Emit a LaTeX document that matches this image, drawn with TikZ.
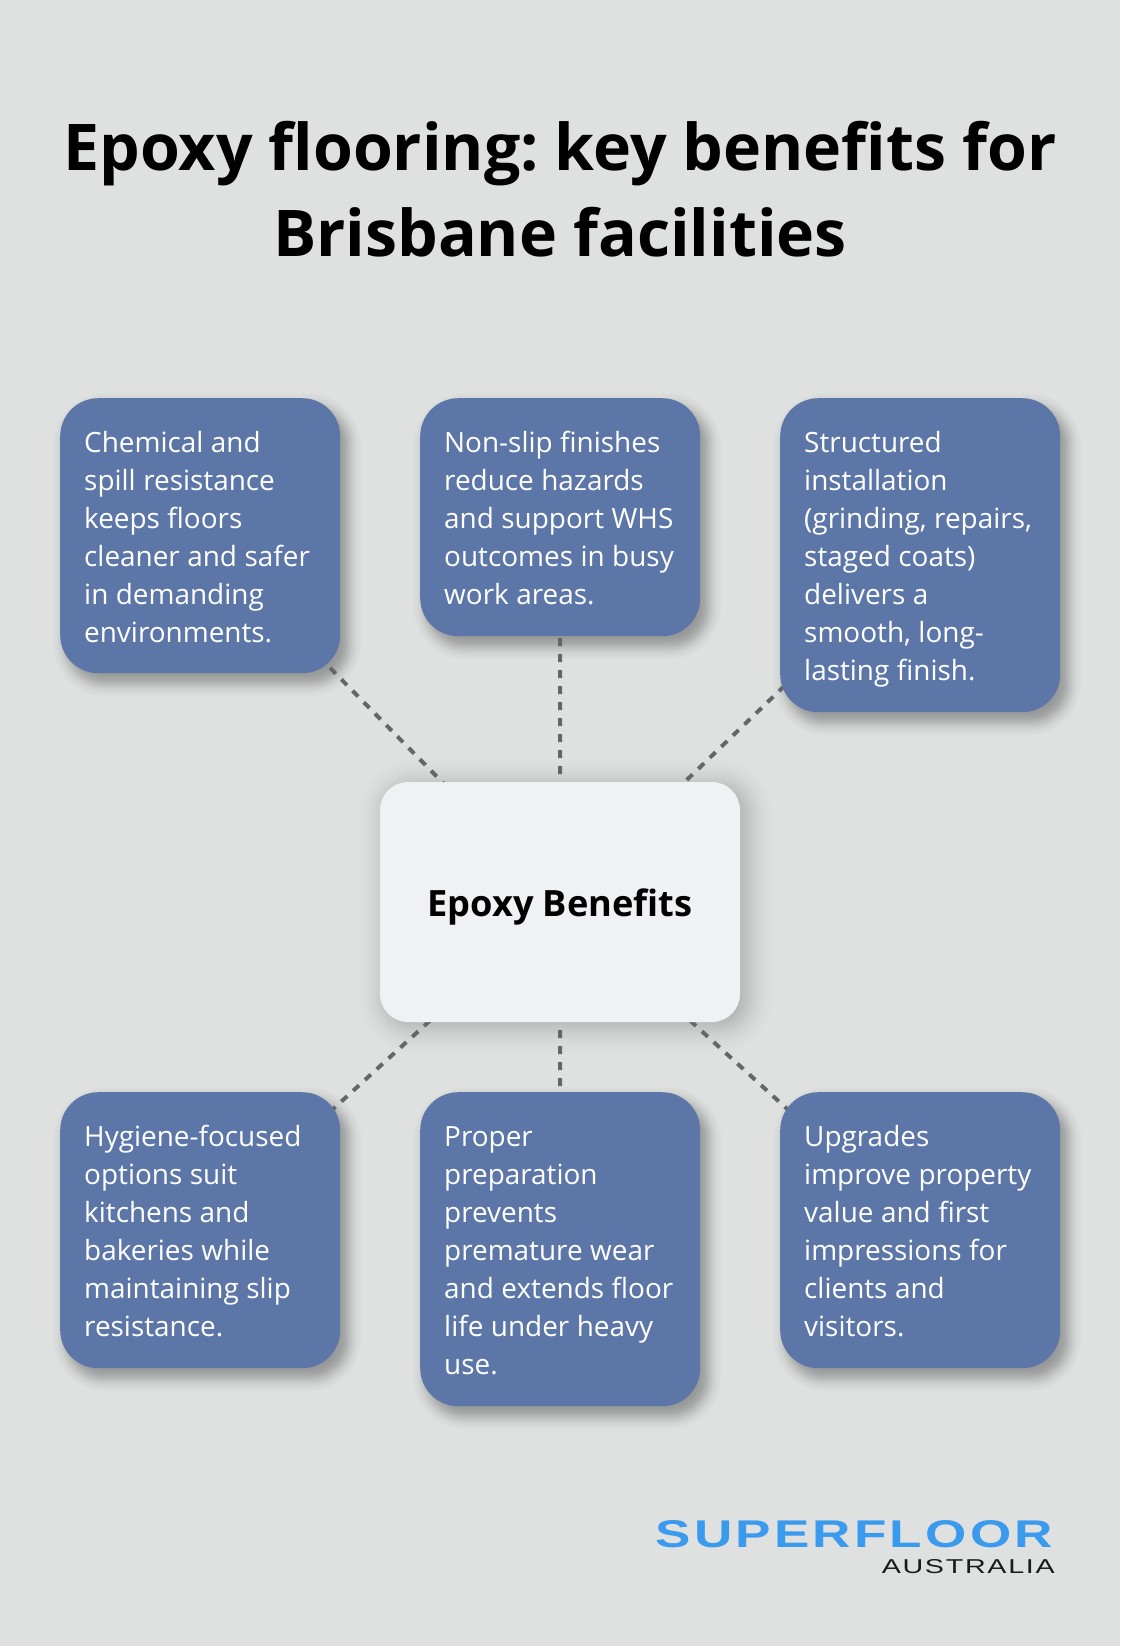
\documentclass[tikz,border=0pt]{standalone}
\usepackage{fontspec}
\usepackage{graphicx}
\setmainfont{Open Sans}[BoldFeatures={WordSpace=0.95}]
\newfontfamily\logofont{Liberation Sans}[LetterSpace=6,BoldFont={Liberation Sans Bold}]
\definecolor{pagebg}{HTML}{DFE1E0}
\definecolor{cardblue}{HTML}{5D76A8}
\definecolor{centrefill}{HTML}{EFF1F3}
\definecolor{linkgrey}{HTML}{666666}
\definecolor{logoblue}{HTML}{3A9BEE}
\definecolor{logoblack}{HTML}{1A1A1A}
\pgfdeclarelayer{pagelayer}
\pgfdeclarelayer{shadowlayer}
\pgfdeclarelayer{linklayer}
\pgfsetlayers{pagelayer,shadowlayer,linklayer,main}
% node, opacity per step, corner radius, dx, dy, spread
\newcommand{\softshadow}[6]{%
  \begin{pgfonlayer}{shadowlayer}
    \foreach \d in {-1,-.88,-.75,-.65,-.57,-.5,-.44,-.38,-.32,-.27,-.22,-.17,-.12,-.07,-.02,.02,.07,.12,.17,.22,.27,.32,.38,.44,.5,.57,.65,.75,.88,1}{
      \pgfmathsetmacro{\o}{\d*#6}
      \pgfmathsetmacro{\rr}{#3+\o}
      \fill[black,opacity=#2,rounded corners=\rr pt]
        ([xshift=#4pt-\o pt,yshift=-#5pt+\o pt]#1.north west) rectangle
        ([xshift=#4pt+\o pt,yshift=-#5pt-\o pt]#1.south east);
    }
  \end{pgfonlayer}}
\newcommand{\cardlines}[1]{\raisebox{-3.7pt}[\height][\depth]{\spaceskip=7.5pt\relax\begin{tabular}{@{}l@{}}#1\end{tabular}}}
\tikzset{
  x=1pt,y=-1pt,
  card/.style={fill=cardblue,draw=none,rounded corners=38pt,minimum width=280pt,
    inner sep=0pt,text=white,anchor=north west,align=left,text width=232pt,
    font=\fontsize{27.9}{38}\selectfont\frenchspacing},
  hub/.style={fill=centrefill,draw=none,rounded corners=28pt,minimum width=360pt,
    minimum height=240pt,inner sep=0pt,text=black,align=center,
    font=\fontsize{36.2}{48}\selectfont\bfseries},
  link/.style={draw=linkgrey,line width=4pt,dash pattern=on 8pt off 8pt},
  titletext/.style={align=center,text=black,inner sep=0pt,
    font=\fontsize{64.4}{86}\selectfont\bfseries\frenchspacing},
}
\begin{document}
\begin{tikzpicture}
\begin{pgfonlayer}{pagelayer}
\fill[pagebg] (0,0) rectangle (1120,1646);
\end{pgfonlayer}
\useasboundingbox (0,0) rectangle (1120,1646);
\node[titletext] (title) at (560,189) {Epoxy flooring: key benefits for\\Brisbane facilities};
\node[card,minimum height=275pt] (a) at (60,398) {\cardlines{Chemical and\\spill resistance\\keeps floors\\cleaner and safer\\in demanding\\environments.}};
\node[card,minimum height=238pt] (b) at (420,398) {\cardlines{Non-slip finishes\\reduce hazards\\and support WHS\\outcomes in busy\\work areas.}};
\node[card,minimum height=314pt] (c) at (780,398) {\cardlines{Structured\\installation\\(grinding, repairs,\\staged coats)\\delivers a\\smooth, long-\\lasting finish.}};
\node[hub] (hubnode) at (560,902) {\raisebox{-5pt}[\height][\depth]{Epoxy Benefits}};
\node[card,minimum height=276pt] (d) at (60,1092) {\cardlines{Hygiene-focused\\options suit\\kitchens and\\bakeries while\\maintaining slip\\resistance.}};
\node[card,minimum height=314pt] (e) at (420,1092) {\cardlines{Proper\\preparation\\prevents\\premature wear\\and extends floor\\life under heavy\\use.}};
\node[card,minimum height=276pt] (f) at (780,1092) {\cardlines{Upgrades\\improve property\\value and first\\impressions for\\clients and\\visitors.}};
\softshadow{hubnode}{0.007}{28}{6}{4}{26}
\softshadow{a}{0.011}{38}{7}{9}{14}
\softshadow{b}{0.011}{38}{7}{9}{14}
\softshadow{c}{0.011}{38}{7}{9}{14}
\softshadow{d}{0.011}{38}{7}{9}{14}
\softshadow{e}{0.011}{38}{7}{9}{14}
\softshadow{f}{0.011}{38}{7}{9}{14}
\begin{pgfonlayer}{linklayer}
  \foreach \n in {a,b,c,d,e,f}{
    \draw[link] (hubnode.center) -- (\n.center);
  }
\end{pgfonlayer}
\node[anchor=north east,inner sep=0pt,text=logoblue] (logo1) at (1053,1520) {\resizebox{397pt}{27pt}{\logofont\bfseries SUPERFLOOR}};
\node[anchor=north east,inner sep=0pt,text=logoblack] (logo2) at (1055,1559) {\resizebox{173pt}{14pt}{\logofont AUSTRALIA}};
\end{tikzpicture}
\end{document}
